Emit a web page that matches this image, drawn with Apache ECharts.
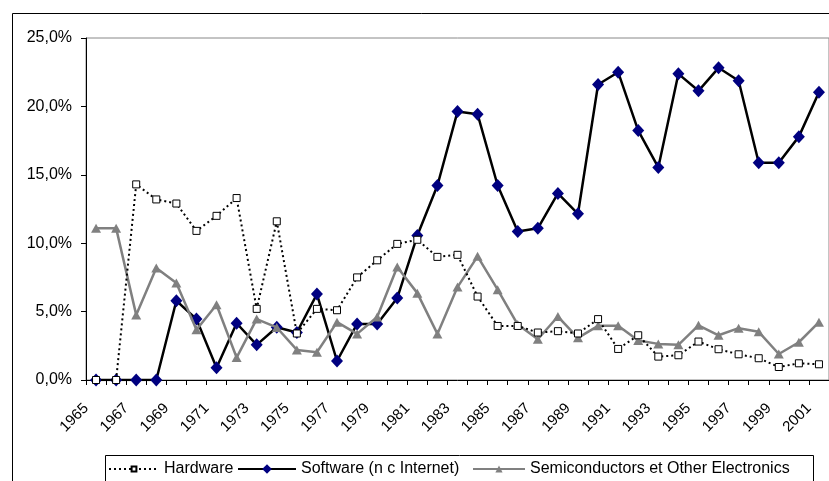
<!DOCTYPE html>
<html>
<head>
<meta charset="utf-8">
<script src="https://cdn.jsdelivr.net/npm/echarts@6/dist/echarts.min.js"></script>
<style>html,body{margin:0;padding:0;background:#fff}#c{width:829px;height:481px}</style>
</head>
<body>
<div id="c"></div>
<script>
var years = [];
for (var y = 1965; y <= 2001; y++) years.push(String(y));

var hardware = [0, 0, 14.3, 13.2, 12.9, 10.9, 12.0, 13.3, 5.2, 11.6, 3.4, 5.2, 5.1, 7.5, 8.75, 9.95, 10.25, 9.0, 9.15, 6.1, 3.95, 3.95, 3.47, 3.57, 3.4, 4.45, 2.27, 3.27, 1.71, 1.81, 2.81, 2.25, 1.88, 1.59, 0.95, 1.22, 1.15];
var software = [0, 0, 0, 0, 5.79, 4.45, 0.9, 4.15, 2.57, 3.86, 3.47, 6.28, 1.39, 4.1, 4.1, 5.99, 10.56, 14.22, 19.62, 19.43, 14.22, 10.85, 11.09, 13.64, 12.15, 21.6, 22.5, 18.23, 15.54, 22.38, 21.14, 22.82, 21.87, 15.88, 15.88, 17.79, 21.04];
var semis = [11.1, 11.1, 4.76, 8.19, 7.09, 3.67, 5.5, 1.64, 4.45, 3.84, 2.2, 2.03, 4.23, 3.37, 4.6, 8.26, 6.35, 3.37, 6.79, 9.04, 6.6, 4.05, 2.98, 4.64, 3.08, 3.96, 3.96, 2.88, 2.64, 2.57, 4.0, 3.27, 3.79, 3.52, 1.9, 2.76, 4.23];
var seriesNames = ['Hardware', 'Software (n c Internet)', 'Semiconductors et Other Electronics'];
var yTicks = [0, 5, 10, 15, 20, 25];

var FONT = '"Liberation Sans", Arial, sans-serif';
function legendAt(name, left, w, h) {
  return {
    left: left, top: 461, data: [name], padding: 0,
    itemWidth: w, itemHeight: h,
    textStyle: {fontFamily: FONT, fontSize: 16, color: '#000'}
  };
}
var chart = echarts.init(document.getElementById('c'), null, {renderer: 'canvas'});
chart.setOption({
  animation: false,
  backgroundColor: '#fff',
  graphic: [{
    type: 'rect', left: 10, top: 11, z: 100, silent: true,
    shape: {width: 900, height: 600},
    style: {fill: 'none', stroke: '#000', lineWidth: 1}
  }, {
    type: 'rect', left: 103, top: 453, z: 100, silent: true,
    shape: {width: 708, height: 60},
    style: {fill: 'none', stroke: '#000', lineWidth: 1}
  }],
  grid: {left: 86, top: 38, right: -1, bottom: 101, show: true, borderColor: '#888', borderWidth: 1, backgroundColor: 'transparent'},
  legend: [
    legendAt(seriesNames[0], 108, 50, 6),
    legendAt(seriesNames[1], 237, 58, 12),
    legendAt(seriesNames[2], 472, 52, 9)
  ],
  xAxis: {
    type: 'category', data: years, boundaryGap: true,
    axisLine: {lineStyle: {color: '#000', width: 1}},
    axisTick: {show: true, interval: 0, length: 5, lineStyle: {color: '#000'}},
    axisLabel: {interval: 1, rotate: 45, fontFamily: FONT, fontSize: 15, color: '#000', margin: 16, padding: [0, 14, 0, 0]},
    splitLine: {show: false}
  },
  yAxis: {
    type: 'value', min: yTicks[0], max: yTicks[yTicks.length - 1], interval: 5,
    axisLine: {show: true, lineStyle: {color: '#000', width: 1}},
    axisTick: {show: true, length: 5, inside: false, lineStyle: {color: '#000'}},
    axisLabel: {fontFamily: FONT, fontSize: 16, color: '#000', margin: 14,
      formatter: function (v) { return v.toFixed(1).replace('.', ',') + '%'; }},
    splitLine: {show: false}
  },
  series: [{
    name: seriesNames[0], type: 'line', data: hardware, z: 4,
    symbol: 'rect', symbolSize: 7, showAllSymbol: true,
    lineStyle: {color: '#000', width: 2, type: [2, 3]},
    itemStyle: {color: '#fff', borderColor: '#000', borderWidth: 1}
  }, {
    name: seriesNames[1], type: 'line', data: software, z: 2,
    symbol: 'diamond', symbolSize: [12, 13], showAllSymbol: true,
    lineStyle: {color: '#000', width: 2.5},
    itemStyle: {color: '#000080', borderColor: '#000080', borderWidth: 0}
  }, {
    name: seriesNames[2], type: 'line', data: semis, z: 3,
    symbol: 'triangle', symbolSize: [10, 9], showAllSymbol: true,
    lineStyle: {color: '#808080', width: 2.5},
    itemStyle: {color: '#808080', borderWidth: 0}
  }]
});
</script>
</body>
</html>
